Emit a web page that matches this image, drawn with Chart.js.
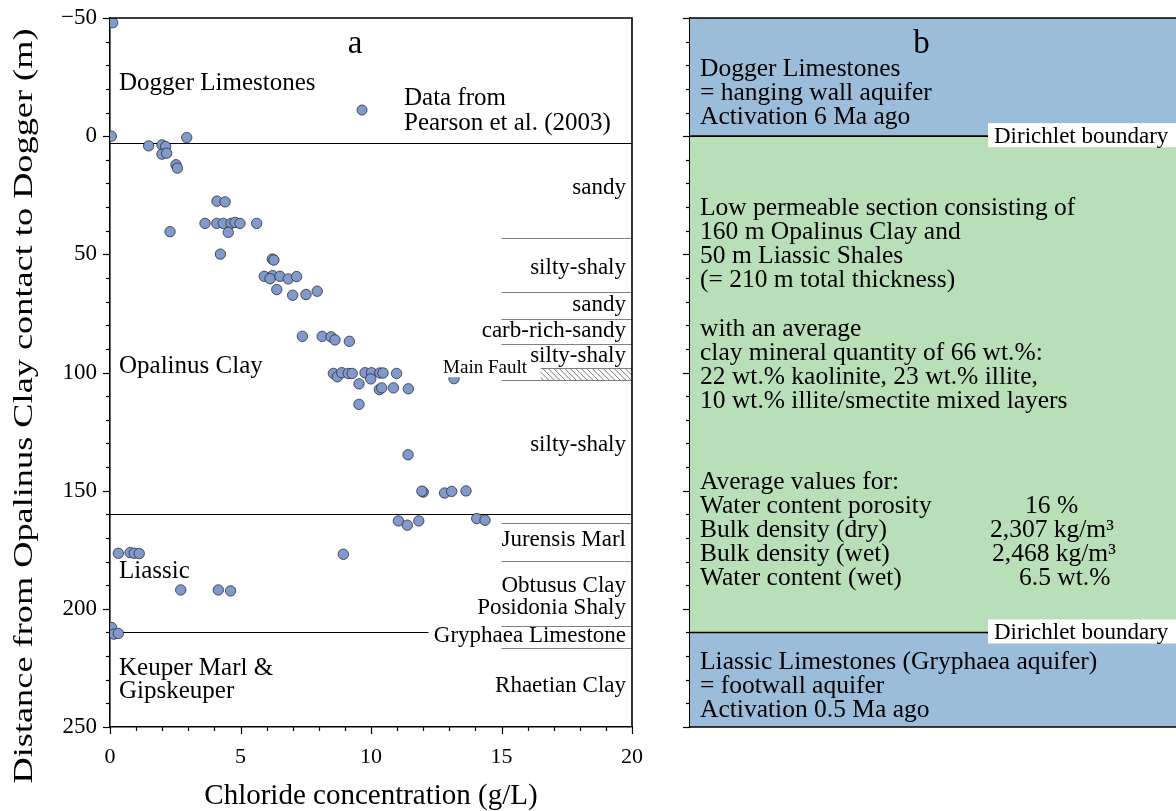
<!DOCTYPE html>
<html>
<head>
<meta charset="utf-8">
<script src="https://cdn.jsdelivr.net/npm/chart.js@4.4.1/dist/chart.umd.min.js"></script>
<style>
  html, body { margin: 0; padding: 0; background: #fff; overflow: hidden; width: 1176px; height: 811px; }
  #chartA { position: absolute; left: 0; top: 0; }
  #chartB { position: absolute; left: 650px; top: 0; }
</style>
</head>
<body>
<canvas id="chartA" width="650" height="811"></canvas>
<canvas id="chartB" width="540" height="811"></canvas>
<script>
// Pore-water chloride profile (Pearson et al. 2003)
const chloride = [0.1, 0.05, 1.48, 1.99, 2.13, 1.99, 2.17, 2.94, 2.53, 2.58,
  4.10, 4.41, 3.64, 4.09, 4.34, 4.64, 4.79, 4.98, 5.62, 4.53, 2.30, 4.23,
  6.22, 6.28, 5.91, 6.23, 6.13, 6.51, 6.83, 7.15, 6.39, 7.00, 7.51, 7.94,
  7.37, 8.13, 8.47, 8.62, 9.17,
  8.56, 8.71, 8.88, 9.13, 9.28, 9.77, 10.02, 10.34, 10.46, 10.98, 9.99, 9.54, 9.54,
  10.32, 10.41, 10.86, 11.43, 13.18, 11.42,
  12.00, 11.95, 12.82, 13.09, 13.64,
  11.05, 11.39, 11.83, 14.05, 14.37,
  8.94, 0.32, 0.77, 0.93, 1.12, 2.71, 4.15, 4.62,
  0.06, 0.15, 0.32];
const depth = [-48, 0, 4.1, 3.7, 4.4, 7.6, 7.2, 0.6, 12.1, 13.5,
  27.5, 27.8, 36.9, 36.9, 36.9, 36.9, 36.5, 36.9, 36.9, 40.7, 40.4, 49.9,
  52.0, 52.4, 59.3, 59.0, 60.3, 59.3, 60.4, 59.4, 64.9, 67.3, 67.0, 65.6,
  84.7, 84.7, 84.9, 86.2, 86.8,
  100.4, 101.8, 100.1, 100.4, 100.4, 100.1, 100.1, 100.2, 100.2, 100.4, 102.7, 104.8, 113.5,
  107.2, 106.5, 106.5, 106.9, 102.6, 134.8,
  150.6, 150.2, 151.0, 150.3, 150.1,
  162.8, 164.6, 162.8, 161.8, 162.5,
  176.9, 176.5, 176.2, 176.5, 176.6, 192.0, 192.0, 192.4,
  207.9, 210.7, 210.4];

const depthTicks = [-50, 0, 50, 100, 150, 200, 250];
const chlorideTicks = [0, 5, 10, 15, 20];

// Formations (left) and facies column (right), depths in m
const formationNames = ['Dogger Limestones', 'Opalinus Clay', 'Liassic', 'Keuper Marl &', 'Gipskeuper'];
const formationLabelDepths = [-19.6, 100.3, 187.0, 228.1, 237.6];
const formationBoundaries = [2.7, 160, 210];

const faciesNames = ['sandy', 'silty-shaly', 'sandy', 'carb-rich-sandy', 'silty-shaly', 'silty-shaly',
  'Jurensis Marl', 'Obtusus Clay', 'Posidonia Shaly', 'Gryphaea Limestone', 'Rhaetian Clay'];
const faciesLabelDepths = [24.6, 58.3, 73.8, 84.8, 95.4, 133.1, 173.5, 192.8, 202.0, 214.0, 235.2];
const faciesBoundaries = [43.2, 65.8, 77.5, 88.1, 103.1, 163.6, 179.9, 207.4, 216.4];
const faultZone = [97.9, 103.1];
const faultLabelDepth = 100.3;

// Conceptual model column
const zoneTops = [-50, 0, 210];
const zoneBases = [0, 210, 250];
const dirichletDepths = [0, 210];
const doggerText = ['Dogger Limestones', '= hanging wall aquifer', 'Activation 6 Ma ago'];
const sectionText = ['Low permeable section consisting of', '160 m Opalinus Clay and',
  '50 m Liassic Shales', '(= 210 m total thickness)'];
const clayText = ['with an average', 'clay mineral quantity of 66 wt.%:',
  '22 wt.% kaolinite, 23 wt.% illite,', '10 wt.% illite/smectite mixed layers'];
const propertyNames = ['Water content porosity', 'Bulk density (dry)', 'Bulk density (wet)', 'Water content (wet)'];
const propertyValues = ['16 %', '2,307 kg/m³', '2,468 kg/m³', '6.5 wt.%'];
const liassicText = ['Liassic Limestones (Gryphaea aquifer)', '= footwall aquifer', 'Activation 0.5 Ma ago'];

const serif = "'Liberation Serif', 'Times New Roman', serif";
const aquiferBlue = '#9bbdda';
const clayGreen = '#b8dfb8';
const pointFill = '#8199cb';
const pointEdge = '#2a2d3a';
const depthTitle = 'Distance from Opalinus Clay contact to Dogger (m)';

function hline(ctx, x0, x1, y) {
  ctx.beginPath(); ctx.moveTo(x0, y); ctx.lineTo(x1, y); ctx.stroke();
}
function crisp(v) { return Math.round(v) + 0.5; }

function drawDepthTicks(ctx, yScale, xLeft) {
  ctx.strokeStyle = '#000'; ctx.lineWidth = 1.2;
  for (let d = -50; d <= 250; d += 10) {
    const py = crisp(yScale.getPixelForValue(d));
    const len = d % 50 === 0 ? 7 : 4;
    ctx.beginPath(); ctx.moveTo(xLeft, py); ctx.lineTo(xLeft - len, py); ctx.stroke();
  }
}

const panelA = {
  id: 'panelA',
  beforeDatasetsDraw(chart) {
    const { ctx, chartArea: a, scales: { x, y } } = chart;
    ctx.save();
    // formation boundaries
    ctx.strokeStyle = '#000'; ctx.lineWidth = 1.2;
    formationBoundaries.forEach((d, i) => {
      const xEnd = i === formationBoundaries.length - 1 ? x.getPixelForValue(12.2) : a.right;
      hline(ctx, a.left, xEnd, crisp(y.getPixelForValue(d)));
    });
    // facies boundaries
    ctx.strokeStyle = '#808080'; ctx.lineWidth = 1;
    faciesBoundaries.forEach(d => hline(ctx, x.getPixelForValue(15), a.right, crisp(y.getPixelForValue(d))));
    // main fault hatch
    const fx0 = x.getPixelForValue(16.5), fy0 = crisp(y.getPixelForValue(faultZone[0]));
    const fy1 = crisp(y.getPixelForValue(faultZone[1]));
    hline(ctx, fx0, a.right, fy0);
    ctx.save();
    ctx.beginPath(); ctx.rect(fx0, fy0, a.right - fx0, fy1 - fy0); ctx.clip();
    ctx.strokeStyle = '#666'; ctx.lineWidth = 0.9;
    for (let sx = fx0 - 20; sx < a.right + 20; sx += 5.5) {
      ctx.beginPath(); ctx.moveTo(sx, fy0); ctx.lineTo(sx + (fy1 - fy0), fy1); ctx.stroke();
    }
    ctx.restore();

    ctx.fillStyle = '#000';
    ctx.textBaseline = 'alphabetic';
    ctx.font = `25px ${serif}`; ctx.textAlign = 'left';
    formationNames.forEach((n, i) => ctx.fillText(n, a.left + 9, y.getPixelForValue(formationLabelDepths[i])));
    ctx.font = `23px ${serif}`; ctx.textAlign = 'right';
    faciesNames.forEach((n, i) => ctx.fillText(n, a.right - 6, y.getPixelForValue(faciesLabelDepths[i])));

    // panel letter
    ctx.font = `33px ${serif}`; ctx.textAlign = 'center';
    ctx.fillText('a', 355, 53);

    // legend
    ctx.font = `25px ${serif}`; ctx.textAlign = 'left';
    ctx.fillText('Data from', 404, 105);
    ctx.fillText('Pearson et al. (2003)', 404, 130);
    ctx.restore();
  },
  afterDatasetsDraw(chart) {
    const { ctx, chartArea: a, scales: { x, y } } = chart;
    ctx.save();
    // fault label on a white backing
    ctx.font = `19px ${serif}`; ctx.textAlign = 'right'; ctx.textBaseline = 'alphabetic';
    const fy = y.getPixelForValue(faultLabelDepth);
    const w = ctx.measureText('Main Fault').width;
    ctx.fillStyle = '#fff';
    ctx.fillRect(527 - w - 2, fy - 16, w + 4, 20);
    ctx.fillStyle = '#000';
    ctx.fillText('Main Fault', 527, fy);

    // legend marker
    ctx.beginPath(); ctx.arc(362, 110, 5, 0, Math.PI * 2);
    ctx.fillStyle = pointFill; ctx.fill();
    ctx.lineWidth = 0.8; ctx.strokeStyle = pointEdge; ctx.stroke();

    // frame
    ctx.strokeStyle = '#000'; ctx.lineWidth = 1.6;
    ctx.beginPath();
    ctx.moveTo(a.left, a.top); ctx.lineTo(a.right, a.top); ctx.lineTo(a.right, a.bottom);
    ctx.stroke();

    // tick marks
    drawDepthTicks(ctx, y, a.left);
    for (let c = 0; c <= 20; c += 1) {
      const px = crisp(x.getPixelForValue(c));
      const len = c % 5 === 0 ? 7 : 4;
      ctx.beginPath(); ctx.moveTo(px, a.bottom); ctx.lineTo(px, a.bottom + len); ctx.stroke();
    }

    // depth axis title, set tall along the axis
    ctx.fillStyle = '#000';
    ctx.font = `28px ${serif}`; ctx.textAlign = 'center'; ctx.textBaseline = 'middle';
    const tw = ctx.measureText(depthTitle).width;
    ctx.translate(25, 406);
    ctx.rotate(-Math.PI / 2);
    ctx.scale(755 / tw, 1);
    ctx.fillText(depthTitle, 0, 0);
    ctx.restore();
  }
};

new Chart(document.getElementById('chartA'), {
  type: 'scatter',
  data: {
    datasets: [{
      data: chloride.map((c, i) => ({ x: c, y: depth[i] })),
      pointRadius: 5.2,
      pointBackgroundColor: pointFill,
      pointBorderColor: pointEdge,
      pointBorderWidth: 0.8
    }]
  },
  options: {
    responsive: false,
    animation: false,
    events: [],
    layout: { padding: { top: 18, right: 18, left: 0, bottom: 0 } },
    plugins: { legend: { display: false }, tooltip: { enabled: false } },
    scales: {
      x: {
        type: 'linear', min: 0, max: 20,
        afterBuildTicks: s => { s.ticks = chlorideTicks.map(v => ({ value: v })); },
        grid: { display: false, drawTicks: false },
        border: { display: true, color: '#000', width: 1.6 },
        ticks: { padding: 17, color: '#000', maxRotation: 0, font: { family: serif, size: 22 } },
        title: { display: true, text: 'Chloride concentration (g/L)', color: '#000',
          font: { family: serif, size: 29, lineHeight: 1.2 }, padding: { top: 0, bottom: -3 } },
        afterFit: s => { s.height = 84; s.paddingLeft = 0; s.paddingRight = 0; }
      },
      y: {
        type: 'linear', min: -50, max: 250, reverse: true,
        afterBuildTicks: s => { s.ticks = depthTicks.map(v => ({ value: v })); },
        grid: { display: false, drawTicks: false },
        border: { display: true, color: '#000', width: 1.6 },
        ticks: { padding: 13, color: '#000', font: { family: serif, size: 23 },
          callback: v => (v < 0 ? '\u2212' + Math.abs(v) : String(v)) },
        afterFit: s => { s.width = 110; s.paddingTop = 0; s.paddingBottom = 0; }
      }
    }
  },
  plugins: [panelA]
});

function textBlock(ctx, lines, x, baseline, step) {
  lines.forEach((t, i) => ctx.fillText(t, x, baseline + i * step));
}

const panelB = {
  id: 'panelB',
  afterDatasetsDraw(chart) {
    const { ctx, chartArea: a, scales: { y } } = chart;
    const step = 24;
    ctx.save();
    // model boundaries with labels
    ctx.strokeStyle = '#000'; ctx.lineWidth = 1.6;
    ctx.font = `23px ${serif}`; ctx.textBaseline = 'alphabetic'; ctx.textAlign = 'left';
    dirichletDepths.forEach(d => {
      const py = y.getPixelForValue(d);
      hline(ctx, a.left, a.left + 300, py);
      ctx.fillStyle = '#fff';
      ctx.fillRect(a.left + 298, py - 13, a.right - a.left - 298, 24);
      ctx.fillStyle = '#000';
      ctx.fillText('Dirichlet boundary', a.left + 304, py + 7);
    });

    ctx.fillStyle = '#000';
    ctx.font = `33px ${serif}`; ctx.textAlign = 'center';
    ctx.fillText('b', 921.5 - 650, 53);

    ctx.font = `25.5px ${serif}`; ctx.textAlign = 'left';
    const tx = a.left + 10;
    textBlock(ctx, doggerText, tx, y.getPixelForValue(-25.3), step);
    textBlock(ctx, sectionText, tx, y.getPixelForValue(33.3), step);
    textBlock(ctx, clayText, tx, y.getPixelForValue(84.4), step);
    const avgBase = y.getPixelForValue(149.3);
    ctx.fillText('Average values for:', tx, avgBase);
    textBlock(ctx, propertyNames, tx, avgBase + step, step);
    const valueX = [375, 340, 342, 369];
    propertyValues.forEach((v, i) => ctx.fillText(v, valueX[i], avgBase + (i + 1) * step));
    textBlock(ctx, liassicText, tx, y.getPixelForValue(225.3), step);

    // frame and ticks
    ctx.strokeStyle = '#000'; ctx.lineWidth = 1.6;
    hline(ctx, a.left, a.right, a.top);
    hline(ctx, a.left, a.right, a.bottom);
    drawDepthTicks(ctx, y, a.left);
    ctx.restore();
  }
};

new Chart(document.getElementById('chartB'), {
  type: 'bar',
  data: {
    labels: [''],
    datasets: zoneTops.map((t, i) => ({
      data: [[t, zoneBases[i]]],
      backgroundColor: i === 1 ? clayGreen : aquiferBlue,
      borderWidth: 0,
      grouped: false,
      barPercentage: 1,
      categoryPercentage: 1
    }))
  },
  options: {
    responsive: false,
    animation: false,
    events: [],
    layout: { padding: { top: 18, bottom: 84, left: 0, right: 0 } },
    plugins: { legend: { display: false }, tooltip: { enabled: false } },
    scales: {
      x: { display: false },
      y: {
        type: 'linear', min: -50, max: 250, reverse: true,
        grid: { display: false, drawTicks: false },
        border: { display: true, color: '#000', width: 1.6 },
        ticks: { display: false },
        afterFit: s => { s.width = 40; }
      }
    }
  },
  plugins: [panelB]
});
</script>
</body>
</html>
